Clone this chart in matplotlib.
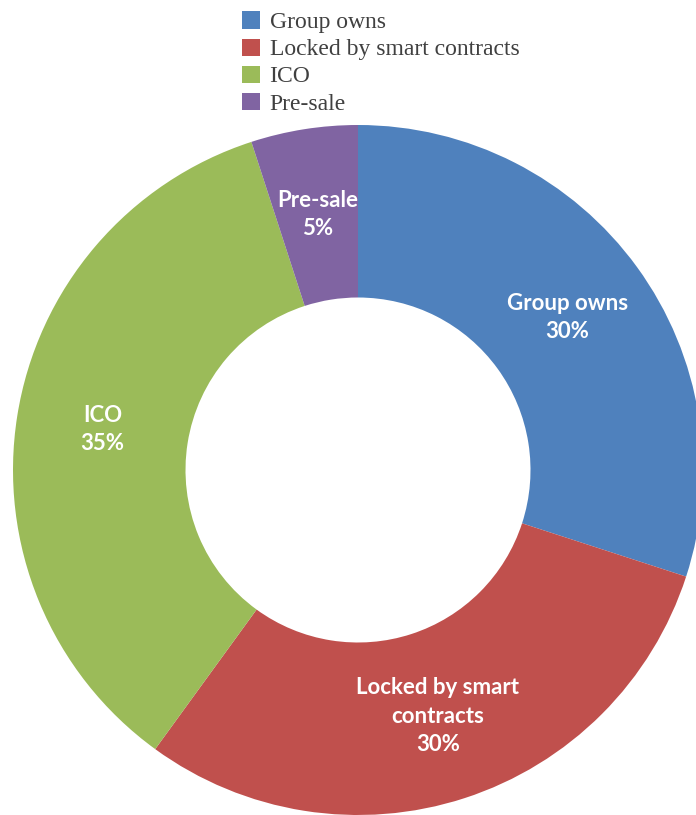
import matplotlib
matplotlib.use("Agg")
import matplotlib.pyplot as plt
from matplotlib.patches import Patch

names = ["Group owns", "Locked by smart contracts", "ICO", "Pre-sale"]
inner_labels = ["Group owns", "Locked by smart\ncontracts", "ICO", "Pre-sale"]
shares = [30, 30, 35, 5]
colors = ["#4F81BD", "#C0504D", "#9BBB59", "#8064A2"]

W, H = 696, 815
fig = plt.figure(figsize=(W / 100, H / 100), dpi=100)

# pie centre at (358, 470) px, radius 345 px
cx, cy, R = 358, 470, 345
ax = fig.add_axes([(cx - R) / W, (H - cy - R) / H, 2 * R / W, 2 * R / H])
ax.axis("off")

it = iter(inner_labels)
wedges, texts, autotexts = ax.pie(
    shares, colors=colors, startangle=90, counterclock=False, radius=1,
    wedgeprops=dict(width=0.5, linewidth=0),
    autopct=lambda p: "%s\n%d%%" % (next(it), round(p)), pctdistance=0.75,
    textprops=dict(color="white", fontsize=16, fontweight="bold",
                   family=["Lato", "DejaVu Sans"], linespacing=1.42))
ax.set_xlim(-1, 1)
ax.set_ylim(-1, 1)
for t in autotexts:
    t.set_ha("center")
    t.set_va("center")

handles = [Patch(facecolor=c, edgecolor="none") for c in colors]
fig.legend(handles, names, loc="upper left", bbox_to_anchor=(233 / W, 1 - 2 / H),
           frameon=False, prop=dict(family="Liberation Serif", size=17),
           labelcolor="#404040", handlelength=0.75, handleheight=0.75,
           handletextpad=0.4, labelspacing=0.22, borderaxespad=0)

fig.savefig("out.png", dpi=100)
